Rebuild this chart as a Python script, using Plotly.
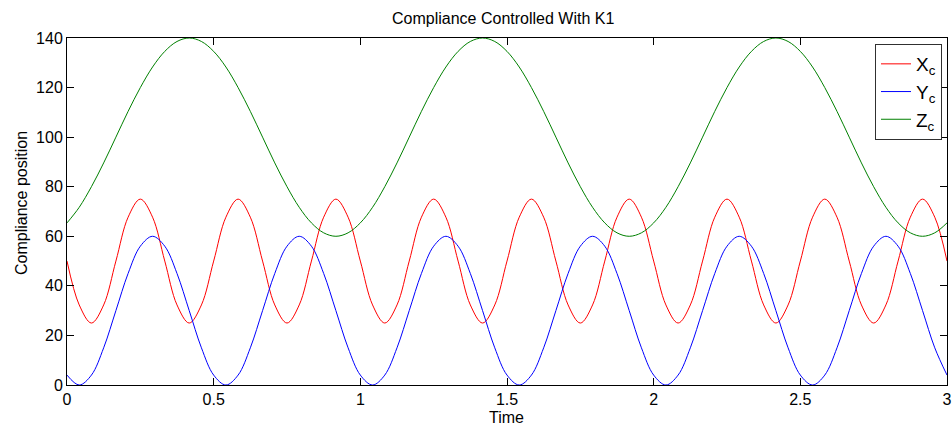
import plotly.graph_objects as go

time = [0.0, 0.0417, 0.0833, 0.125, 0.1667, 0.2083, 0.25, 0.2917, 0.3333, 0.375, 0.4167, 0.4583,
        0.5, 0.5417, 0.5833, 0.625, 0.6667, 0.7083, 0.75, 0.7917, 0.8333, 0.875, 0.9167, 0.9583,
        1.0, 1.0417, 1.0833, 1.125, 1.1667, 1.2083, 1.25, 1.2917, 1.3333, 1.375, 1.4167, 1.4583,
        1.5, 1.5417, 1.5833, 1.625, 1.6667, 1.7083, 1.75, 1.7917, 1.8333, 1.875, 1.9167, 1.9583,
        2.0, 2.0417, 2.0833, 2.125, 2.1667, 2.2083, 2.25, 2.2917, 2.3333, 2.375, 2.4167, 2.4583,
        2.5, 2.5417, 2.5833, 2.625, 2.6667, 2.7083, 2.75, 2.7917, 2.8333, 2.875, 2.9167, 2.9583,
        3.0]

x_c = [50, 32.3, 25, 32.3, 50, 67.7, 75, 67.7, 50, 32.3, 25, 32.3,
       50, 67.7, 75, 67.7, 50, 32.3, 25, 32.3, 50, 67.7, 75, 67.7,
       50, 32.3, 25, 32.3, 50, 67.7, 75, 67.7, 50, 32.3, 25, 32.3,
       50, 67.7, 75, 67.7, 50, 32.3, 25, 32.3, 50, 67.7, 75, 67.7,
       50, 32.3, 25, 32.3, 50, 67.7, 75, 67.7, 50, 32.3, 25, 32.3,
       50, 67.7, 75, 67.7, 50, 32.3, 25, 32.3, 50, 67.7, 75, 67.7,
       50]

y_c = [4, 0, 4, 15, 30, 45, 56, 60, 56, 45, 30, 15,
       4, 0, 4, 15, 30, 45, 56, 60, 56, 45, 30, 15,
       4, 0, 4, 15, 30, 45, 56, 60, 56, 45, 30, 15,
       4, 0, 4, 15, 30, 45, 56, 60, 56, 45, 30, 15,
       4, 0, 4, 15, 30, 45, 56, 60, 56, 45, 30, 15,
       4, 0, 4, 15, 30, 45, 56, 60, 56, 45, 30, 15,
       4]

z_c = [65.4, 71.7, 80, 89.6, 100, 110.4, 120, 128.3, 134.6, 138.6, 140, 138.6,
       134.6, 128.3, 120, 110.4, 100, 89.6, 80, 71.7, 65.4, 61.4, 60, 61.4,
       65.4, 71.7, 80, 89.6, 100, 110.4, 120, 128.3, 134.6, 138.6, 140, 138.6,
       134.6, 128.3, 120, 110.4, 100, 89.6, 80, 71.7, 65.4, 61.4, 60, 61.4,
       65.4, 71.7, 80, 89.6, 100, 110.4, 120, 128.3, 134.6, 138.6, 140, 138.6,
       134.6, 128.3, 120, 110.4, 100, 89.6, 80, 71.7, 65.4, 61.4, 60, 61.4,
       65.4]

x_ticks = [0, 0.5, 1, 1.5, 2, 2.5, 3]
x_tick_labels = ["0", "0.5", "1", "1.5", "2", "2.5", "3"]
y_ticks = [0, 20, 40, 60, 80, 100, 120, 140]
y_tick_labels = ["0", "20", "40", "60", "80", "100", "120", "140"]

series = [
    ("X<sub>c</sub>", x_c, "#ff0000"),
    ("Y<sub>c</sub>", y_c, "#0000ff"),
    ("Z<sub>c</sub>", z_c, "#008000"),
]

W, H = 952, 426
L, R, T, B = 67, 5, 38, 41
PW, PH = W - L - R, H - T - B

fig = go.Figure()
for name, vals, col in series:
    fig.add_trace(go.Scatter(x=time, y=vals, mode="lines", name=name,
                             line=dict(color=col, width=1, shape="spline", smoothing=1)))

font = "Liberation Sans, Arial, sans-serif"
axis_common = dict(showline=True, linecolor="black", linewidth=1, mirror="ticks",
                   ticks="inside", ticklen=7, tickcolor="black", tickwidth=1,
                   showgrid=False, zeroline=False, automargin=False,
                   tickfont=dict(family=font, size=16, color="black"))

fig.update_layout(
    width=W, height=H,
    margin=dict(l=L, r=R, t=T, b=B, autoexpand=False),
    paper_bgcolor="white", plot_bgcolor="white",
    xaxis=dict(range=[0, 3], tickvals=x_ticks, ticktext=x_tick_labels, **axis_common),
    yaxis=dict(range=[0, 140], tickvals=y_ticks, ticktext=y_tick_labels, **axis_common),
    legend=dict(x=(942 - L) / PW, xanchor="right", y=1 - (44 - T) / PH, yanchor="top",
                bgcolor="white", bordercolor="#303030", borderwidth=1,
                font=dict(family=font, size=19, color="black"),
                tracegroupgap=0),
    showlegend=True,
    annotations=[
        dict(text="Compliance Controlled With K1", xref="paper", yref="paper",
             x=(502.5 - L) / PW, y=1 + (T - 19) / PH,
             xanchor="center", yanchor="middle", showarrow=False,
             font=dict(family=font, size=16, color="black")),
        dict(text="Time", xref="paper", yref="paper",
             x=(506 - L) / PW, y=-(417 - (H - B)) / PH,
             xanchor="center", yanchor="middle", showarrow=False,
             font=dict(family=font, size=16, color="black")),
        dict(text="Compliance position", xref="paper", yref="paper", textangle=-90,
             x=-(L - 21) / PW, y=((H - B) - 203) / PH,
             xanchor="center", yanchor="middle", showarrow=False,
             font=dict(family=font, size=16, color="black")),
    ],
)

fig.write_html("out.html", config={"displayModeBar": False},
               post_script="document.body.style.margin='0';document.body.style.overflow='hidden';")
